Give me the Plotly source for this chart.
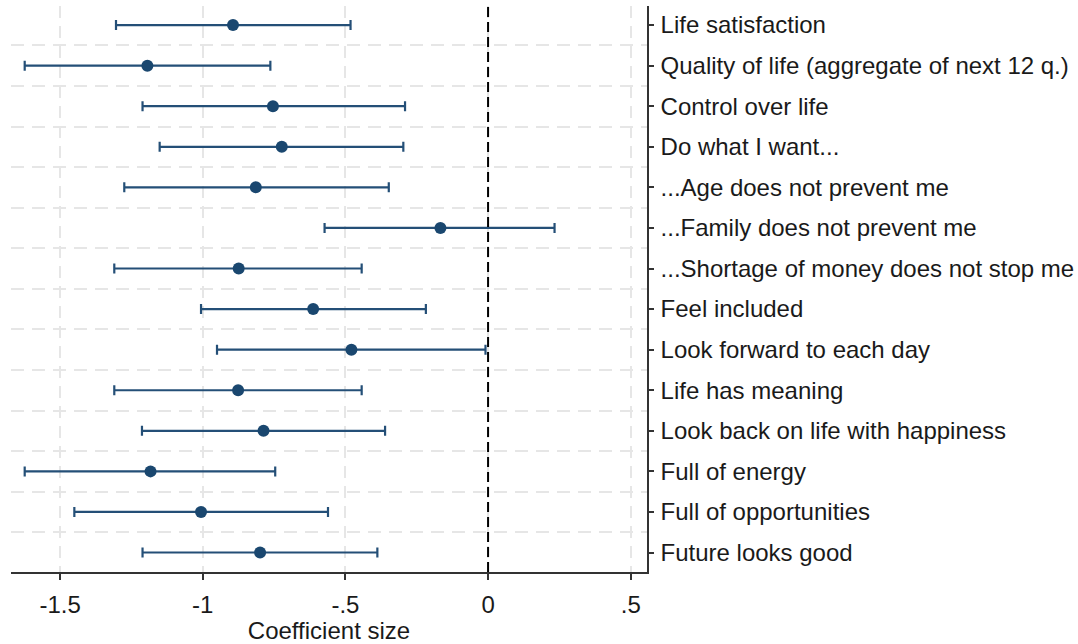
import plotly.graph_objects as go

labels = [
    "Life satisfaction",
    "Quality of life (aggregate of next 12 q.)",
    "Control over life",
    "Do what I want...",
    "...Age does not prevent me",
    "...Family does not prevent me",
    "...Shortage of money does not stop me",
    "Feel included",
    "Look forward to each day",
    "Life has meaning",
    "Look back on life with happiness",
    "Full of energy",
    "Full of opportunities",
    "Future looks good",
]
coef = [-0.894, -1.194, -0.754, -0.723, -0.814, -0.167, -0.874, -0.613, -0.479, -0.876, -0.787, -1.183, -1.006, -0.799]
lower = [-1.304, -1.624, -1.211, -1.151, -1.275, -0.573, -1.310, -1.006, -0.950, -1.310, -1.213, -1.624, -1.450, -1.211]
upper = [-0.482, -0.763, -0.291, -0.297, -0.348, 0.233, -0.443, -0.218, -0.009, -0.443, -0.361, -0.746, -0.561, -0.388]

x_tickvals = [-1.5, -1, -0.5, 0, 0.5]
x_ticktext = ["-1.5", "-1", "-.5", "0", ".5"]

n = len(labels)
ypos = [n - i for i in range(n)]
navy = "#1a476f"
font = "Liberation Sans, Arial, sans-serif"

fig = go.Figure()
fig.add_trace(go.Scatter(
    x=coef, y=ypos, mode="markers",
    marker=dict(color=navy, size=12),
    error_x=dict(type="data", symmetric=False,
                 array=[u - c for u, c in zip(upper, coef)],
                 arrayminus=[c - l for c, l in zip(coef, lower)],
                 color="#244f77", thickness=2.2, width=5),
    showlegend=False, hoverinfo="skip",
))

fig.add_vline(x=0, line=dict(color="black", width=2, dash="10px,5px"))

fig.update_layout(
    width=1078, height=644,
    margin=dict(l=11, r=431, t=6, b=72, autoexpand=False),
    paper_bgcolor="white", plot_bgcolor="white",
    font=dict(family=font, size=24, color="#1a1a1a"),
    xaxis=dict(
        range=[-1.672, 0.557], tickvals=x_tickvals, ticktext=x_ticktext,
        showgrid=True, gridcolor="#e6e6e6", gridwidth=1.5, griddash="12px,8px",
        showline=True, linecolor="#333333", linewidth=1.5,
        ticks="outside", ticklen=6, tickcolor="#333333", tickwidth=1.5,
        zeroline=False, automargin=False, ticklabelstandoff=4,
        title=dict(text="Coefficient size", standoff=8, font=dict(size=24)),
        tickfont=dict(size=24),
    ),
    yaxis=dict(
        range=[0.52, 14.47], side="right", tickvals=ypos, ticktext=labels,
        showgrid=False, zeroline=False, automargin=False,
        showline=True, linecolor="#333333", linewidth=1.5,
        ticks="outside", ticklen=5, tickcolor="#333333", tickwidth=1.5,
        ticklabelstandoff=2,
        tickfont=dict(size=24),
        minor=dict(tickvals=[p + 0.5 for p in ypos[1:]], showgrid=True,
                   gridcolor="#e6e6e6", gridwidth=1.5, griddash="13px,8px", ticks=""),
    ),
)

fig.write_html("out.html", config={"displayModeBar": False},
               post_script="document.body.style.margin='0';document.body.style.overflow='hidden';")
